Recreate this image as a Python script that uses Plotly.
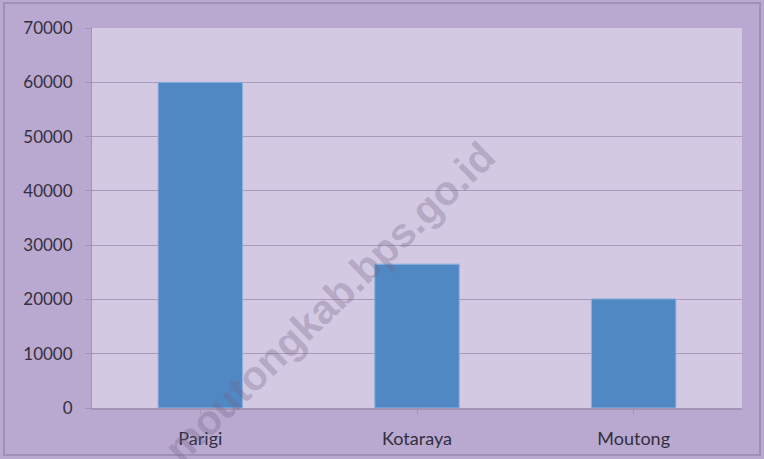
import plotly.graph_objects as go

categories = ["Parigi", "Kotaraya", "Moutong"]
values = [60000, 26500, 20100]
y_ticks = [0, 10000, 20000, 30000, 40000, 50000, 60000, 70000]

fig = go.Figure()
fig.add_trace(go.Bar(
    x=categories, y=values,
    marker=dict(color="#5088c4", line=dict(color="#8fb3de", width=1)),
    width=0.39,
))

fig.update_layout(
    width=764, height=459,
    margin=dict(l=92, r=22, t=28, b=51),
    paper_bgcolor="#b9a8cf",
    plot_bgcolor="#d3c9e2",
    showlegend=False,
    bargap=0.6,
    font=dict(family="Lato, Open Sans, sans-serif", size=16, color="#332f40"),
)
fig.update_yaxes(
    range=[0, 70000], tickvals=y_ticks, tickformat="d",
    showgrid=True, gridcolor="#a999bb", gridwidth=1,
    showline=True, linecolor="#a393b5", linewidth=1,
    ticks="outside", ticklen=6, tickcolor="#a393b5",
    zeroline=False, ticklabelstandoff=9, automargin=False,
    tickfont=dict(size=17),
)
fig.update_xaxes(
    showline=True, linecolor="#a393b5", linewidth=2,
    ticks="outside", ticklen=4, tickcolor="#a393b5",
    ticklabelstandoff=9, automargin=False,
    tickfont=dict(size=18),
)

fig.add_shape(type="rect", xref="paper", yref="paper",
              x0=-88/650, x1=1 + 18/650, y0=-47/380, y1=1 + 25/380,
              line=dict(color="#a090b5", width=2), fillcolor="rgba(0,0,0,0)", layer="below")

fig.add_annotation(
    text="<b>moutongkab.bps.go.id</b>", xref="paper", yref="paper",
    x=(330 - 92) / 650, y=(408 - 302) / 380, showarrow=False, textangle=-44,
    xanchor="center", yanchor="middle",
    font=dict(family="Liberation Sans, Arial, sans-serif", size=41, color="rgba(115,100,135,0.32)"),
)

fig.write_html("out.html", config={"displayModeBar": False},
               post_script="document.body.style.margin='0';")
